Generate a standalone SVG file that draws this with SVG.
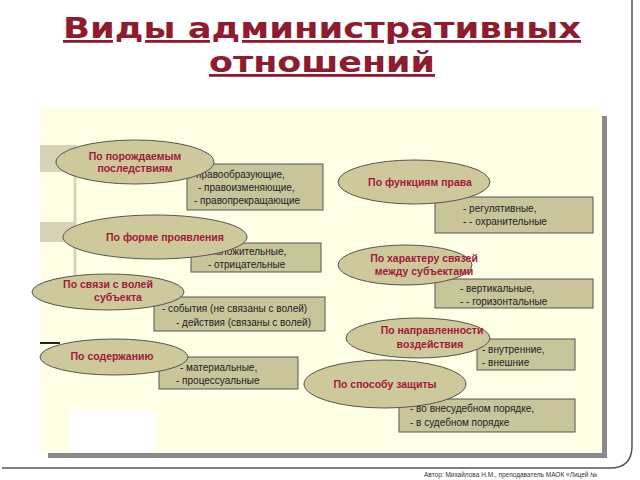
<svg xmlns="http://www.w3.org/2000/svg" width="640" height="480" viewBox="0 0 640 480">
<style>
.el{fill:#CEC99A;stroke:#555;stroke-width:1}
.bx{fill:#C9C59B;stroke:#555;stroke-width:1}
.lt{font-family:"Liberation Sans",Arial,sans-serif;font-size:10.5px;font-weight:bold;fill:#A3173C;text-anchor:middle}
.bt{font-family:"Liberation Sans",Arial,sans-serif;font-size:10px;fill:#222}
</style>
<rect width="640" height="480" fill="#fff"/>
<path d="M2,468 H610 Q632,468 632,446 V0" fill="none" stroke="#555" stroke-width="1.5"/>
<g font-family="'DejaVu Sans',Verdana,sans-serif" font-weight="bold" font-size="28" fill="#8E1B2E" text-anchor="middle" text-decoration="underline">
<text x="322" y="38" textLength="518" lengthAdjust="spacingAndGlyphs">Виды административных</text>
<text x="322" y="72" textLength="226" lengthAdjust="spacingAndGlyphs">отношений</text>
</g>
<rect x="48" y="116" width="559" height="342" fill="#8a8a8a"/>
<rect x="40" y="108" width="562" height="345" fill="#FFFFE6"/>
<rect x="40" y="145" width="36" height="27" fill="#D6D4B4"/>
<rect x="40" y="222" width="36" height="20" fill="#D6D4B4"/>
<rect x="40" y="284" width="36" height="14" fill="#D6D4B4"/>
<line x1="75" y1="145" x2="75" y2="290" stroke="#D6D4B4" stroke-width="3"/>
<line x1="40" y1="343" x2="60" y2="343" stroke="#222" stroke-width="2"/>
<rect x="70" y="410" width="85" height="42" fill="#fff"/>

<g id="b1"><rect class="bx" x="187" y="164" width="136" height="46"/>
<text class="bt" x="190" y="178">- правообразующие,</text><text class="bt" x="198" y="191">-   правоизменяющие,</text><text class="bt" x="194" y="204">-  правопрекращающие</text></g>
<g id="b2"><rect class="bx" x="191" y="243" width="130" height="29"/>
<text class="bt" x="204" y="255">-   положительные,</text><text class="bt" x="208" y="268">-  отрицательные</text></g>
<g id="b3"><rect class="bx" x="154" y="297" width="171" height="34"/>
<text class="bt" x="162" y="312">-    события (не связаны с волей)</text><text class="bt" x="176" y="326">- действия (связаны с волей)</text></g>
<g id="b4"><rect class="bx" x="159" y="357" width="139" height="32"/>
<text class="bt" x="180" y="371">-   материальные,</text><text class="bt" x="176" y="384">-   процессуальные</text></g>
<g id="b5"><rect class="bx" x="435" y="197" width="158" height="36"/>
<text class="bt" x="463" y="212">-    регулятивные,</text><text class="bt" x="463" y="225">-  - охранительные</text></g>
<g id="b6"><rect class="bx" x="435" y="279" width="158" height="29"/>
<text class="bt" x="460" y="292">-    вертикальные,</text><text class="bt" x="460" y="305">-  - горизонтальные</text></g>
<g id="b7"><rect class="bx" x="477" y="339" width="98" height="31"/>
<text class="bt" x="482" y="353">-    внутренние,</text><text class="bt" x="482" y="366">-    внешние</text></g>
<g id="b8"><rect class="bx" x="399" y="399" width="176" height="33"/>
<text class="bt" x="410" y="412">-    во внесудебном порядке,</text><text class="bt" x="410" y="426">-    в судебном порядке</text></g>

<g id="e1"><ellipse class="el" cx="135" cy="162" rx="79" ry="22"/><text class="lt" x="135" y="160">По порождаемым</text><text class="lt" x="135" y="172">последствиям</text></g>
<g id="e2"><ellipse class="el" cx="155" cy="237" rx="92" ry="22"/><text class="lt" x="165" y="241">По форме проявления</text></g>
<g id="e3"><ellipse class="el" cx="108" cy="292" rx="76" ry="18"/><text class="lt" x="108" y="288">По связи с волей</text><text class="lt" x="118" y="301">субъекта</text></g>
<g id="e4"><ellipse class="el" cx="114" cy="357" rx="74" ry="18"/><text class="lt" x="112" y="360">По содержанию</text></g>
<g id="e5"><ellipse class="el" cx="414" cy="182" rx="76" ry="22"/><text class="lt" x="420" y="186">По функциям права</text></g>
<g id="e6"><ellipse class="el" cx="405" cy="265" rx="67" ry="20"/><text class="lt" x="424" y="262">По характеру связей</text><text class="lt" x="424" y="275">между субъектами</text></g>
<g id="e7"><ellipse class="el" cx="418" cy="338" rx="72" ry="20"/><text class="lt" x="432" y="334">По направленности</text><text class="lt" x="430" y="348">воздействия</text></g>
<g id="e8"><ellipse class="el" cx="385" cy="384" rx="81" ry="24"/><text class="lt" x="385" y="388">По способу защиты</text></g>
<g id="connectors"/>
<text x="424" y="477" font-family="'Liberation Sans',Arial,sans-serif" font-size="6.5" fill="#333">Автор: Михайлова Н.М., преподаватель МАОК «Лицей №</text>
</svg>
